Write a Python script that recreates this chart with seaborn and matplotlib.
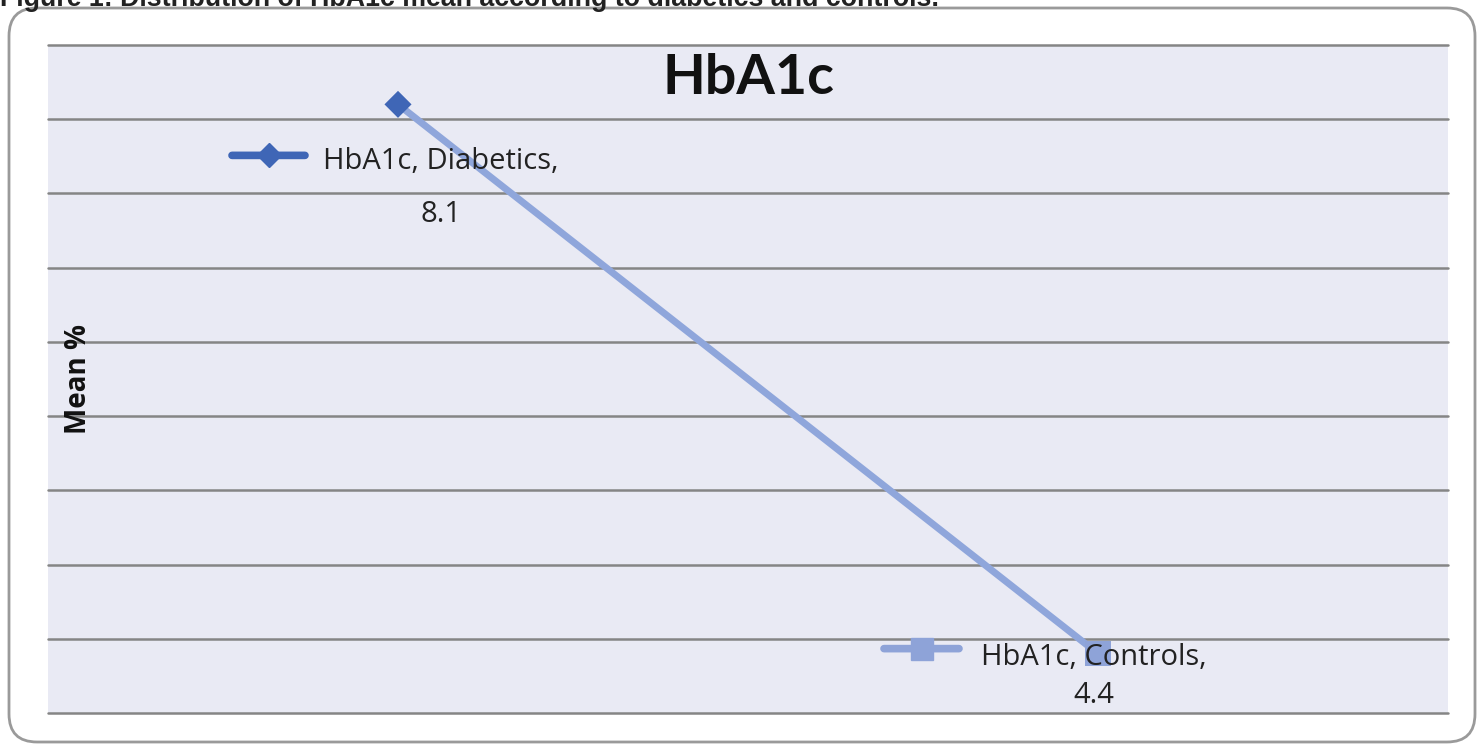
import matplotlib
matplotlib.use("Agg")
import matplotlib.pyplot as plt
import matplotlib.transforms as mtransforms
from matplotlib.patches import FancyBboxPatch
import pandas as pd
import seaborn as sns

# data
groups = ["Diabetics", "Controls"]
hba1c_mean = [8.1, 4.4]
grid_ticks = [4.0, 4.5, 5.0, 5.5, 6.0, 6.5, 7.0, 7.5, 8.0, 8.5]
point_labels = ["HbA1c, Diabetics,\n8.1", "HbA1c, Controls,\n4.4"]

df = pd.DataFrame({"group": groups, "mean": hba1c_mean})
df["pos"] = range(len(df))

bg = "#e9eaf4"
line_col = "#8fa6db"
dark_blue = "#3f66b6"
light_blue = "#8ea3d8"

sns.set_style("white")
plt.rcParams["font.family"] = ["Open Sans", "DejaVu Sans"]

fig = plt.figure(figsize=(14.79, 7.46), dpi=100)
ax = fig.add_axes([48 / 1479, 1 - 713 / 746, 1400 / 1479, 668 / 746])
ax.set_facecolor(bg)

sns.lineplot(data=df, x="pos", y="mean", color=line_col, linewidth=5, ax=ax, zorder=3)
sns.scatterplot(data=df, x="pos", y="mean", hue="group", style="group", size="group",
                markers={"Diabetics": "D", "Controls": "s"},
                palette={"Diabetics": dark_blue, "Controls": light_blue},
                sizes={"Diabetics": 190, "Controls": 330},
                linewidth=0, legend=False, ax=ax, zorder=4)

ax.set_xlim(-0.5, 1.5)
ax.set_ylim(4.0, 8.5)
ax.set_yticks(grid_ticks)
ax.tick_params(left=False, labelleft=False, bottom=False, labelbottom=False)
ax.grid(axis="y", color="#858585", linewidth=1.8)
ax.grid(axis="x", visible=False)
for gl in ax.get_ygridlines():
    gl.set_clip_on(False)
ax.set_axisbelow(True)
for s in ax.spines.values():
    s.set_visible(False)
ax.set_xlabel("")
ax.set_ylabel("")


def offset(dx, dy):
    return ax.transData + mtransforms.ScaledTranslation(dx / 100, dy / 100, fig.dpi_scale_trans)


# data labels with legend keys (offsets in pixels from each point)
label_cfg = [
    # text dx, dy, line spacing, key x0, key x1, key dy, marker, colour, marker size
    (43, -84, 2.1, -166, -93, -51, "D", dark_blue, 12),
    (-4, -23, 1.4, -214, -139, 5, "s", light_blue, 16),
]
for i, (tdx, tdy, lsp, kx0, kx1, kdy, mk, col, ms) in enumerate(label_cfg):
    x, y = df["pos"][i], df["mean"][i]
    ax.annotate(point_labels[i], xy=(x, y), xytext=(tdx, tdy), textcoords="offset pixels",
                ha="center", va="center", fontsize=21, linespacing=lsp,
                color="#222222", zorder=6, annotation_clip=False)
    ax.annotate("", xy=(x, y), xycoords=offset(kx1, kdy), xytext=(x, y),
                textcoords=offset(kx0, kdy),
                arrowprops=dict(arrowstyle="-", lw=5.5, color=col, shrinkA=0, shrinkB=0),
                zorder=5)
    ax.plot([x], [y], marker=mk, markersize=ms, color=col, linestyle="none",
            transform=offset((kx0 + kx1) / 2, kdy), zorder=5, clip_on=False)

ax.text(0.022, 0.5, "Mean %", transform=ax.transAxes, rotation=90, ha="center", va="center",
        fontsize=20, fontweight="bold", color="#111111")

fig.text(748 / 1479, 1 - 78 / 746, "HbA1c", ha="center", va="center",
         fontsize=40, fontweight="bold", color="#111111", family="Lato")

fig.text(0.0, 1 - 6 / 746, "Figure 1: Distribution of HbA1c mean according to diabetics and controls.",
         ha="left", va="baseline", fontsize=19.3, fontweight="bold", color="#222222",
         family="Liberation Sans")

border = FancyBboxPatch((9, 4), 1466, 734, boxstyle="round,pad=0,rounding_size=28",
                        facecolor="none", edgecolor="#9a9a9a", linewidth=2,
                        transform=mtransforms.IdentityTransform())
fig.add_artist(border)

fig.savefig("out.png", dpi=100)
